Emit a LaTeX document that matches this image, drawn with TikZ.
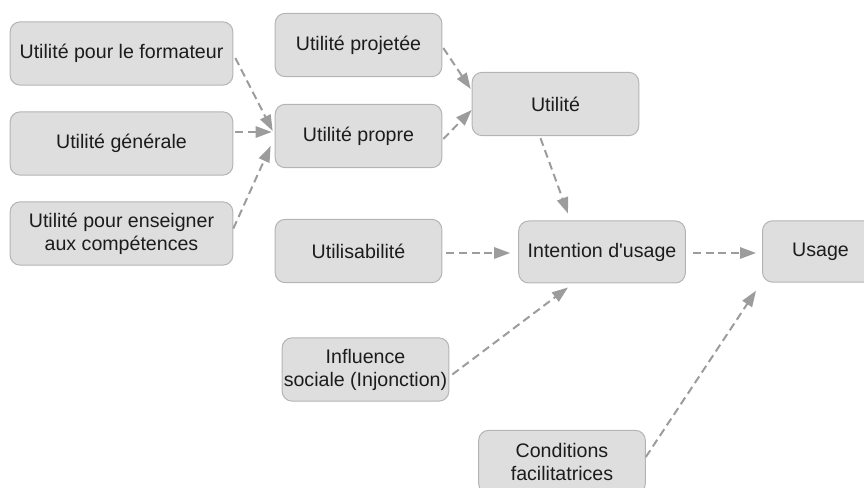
\documentclass[tikz,border=0pt]{standalone}
\usepackage{fontspec}
\setmainfont{Liberation Sans}
\usepackage{tikz}
\usetikzlibrary{arrows.meta}
\definecolor{boxfill}{HTML}{DEDEDE}
\definecolor{boxline}{HTML}{B4B4B4}
\definecolor{arrowgray}{HTML}{9C9C9C}
\definecolor{textblack}{HTML}{1C1C1C}
\begin{document}
\begin{tikzpicture}[x=0.75pt,y=-0.75pt,
	box/.style={draw=boxline,fill=boxfill,line width=0.75pt,rounded corners=7.5pt,
		minimum height=47.5pt,inner sep=0pt,align=center,text=textblack,
		font=\fontsize{14.7pt}{17.3pt}\selectfont},
	wide/.style={box,minimum width=167pt},
	narrow/.style={box,minimum width=125pt},
	link/.style={arrowgray,line width=1.5pt,dash pattern=on 6pt off 3.5pt,
		-{Triangle[length=12pt,width=8.5pt]}}]
	\clip (0,0) rectangle (864,488);
	\useasboundingbox (0,0) rectangle (864,488);
	% left column
	\node[wide] (formateur) at (121.5,53.5) {Utilité pour le formateur};
	\node[wide] (generale) at (121.5,143.5) {Utilité générale};
	\node[wide] (enseigner) at (121.5,233.5) {Utilité pour enseigner\\aux compétences};
	% middle column
	\node[narrow] (projetee) at (358.5,45) {Utilité projetée};
	\node[narrow] (propre) at (358.5,136) {Utilité propre};
	\node[narrow] (utilisabilite) at (358.5,251) {Utilisabilité};
	\node[narrow] (influence) at (365.5,369.5) {Influence\\sociale (Injonction)};
	% right part
	\node[narrow] (utilite) at (555.5,104) {Utilité};
	\node[narrow,minimum height=46.5pt] (intention) at (602,252) {Intention d\textquotesingle usage};
	\node[box,minimum width=87pt,minimum height=46pt] (usage) at (820.5,251.5) {Usage};
	\node[narrow] (conditions) at (562,462) {Conditions\\facilitatrices};
	% connectors
	\draw[link] ([shift={(2,4.5)}]formateur.east) -- ([shift={(-2,-5)}]propre.west);
	\draw[link] ([shift={(2,-11.5)}]generale.east) -- ([shift={(-3,-4)}]propre.west);
	\draw[link] ([shift={(0,-5)}]enseigner.east) -- ([shift={(-4,10)}]propre.west);
	\draw[link] ([shift={(1,3)}]projetee.east) -- ([shift={(-1,-15)}]utilite.west);
	\draw[link] ([shift={(1,3)}]propre.east) -- ([shift={(0,6)}]utilite.west);
	\draw[link] ([shift={(-15,2)}]utilite.south) -- ([shift={(-34,-7)}]intention.north);
	\draw[link] ([shift={(4,2)}]utilisabilite.east) -- ([shift={(-8,1)}]intention.west);
	\draw[link] ([shift={(7,1)}]intention.east) -- ([shift={(-6,1.5)}]usage.west);
	\draw[link] ([shift={(3,5)}]influence.east) -- ([shift={(-34,4)}]intention.south);
	\draw[link] ([shift={(0,-5)}]conditions.east) -- ([shift={(-6,8)}]usage.south west);
\end{tikzpicture}
\end{document}
